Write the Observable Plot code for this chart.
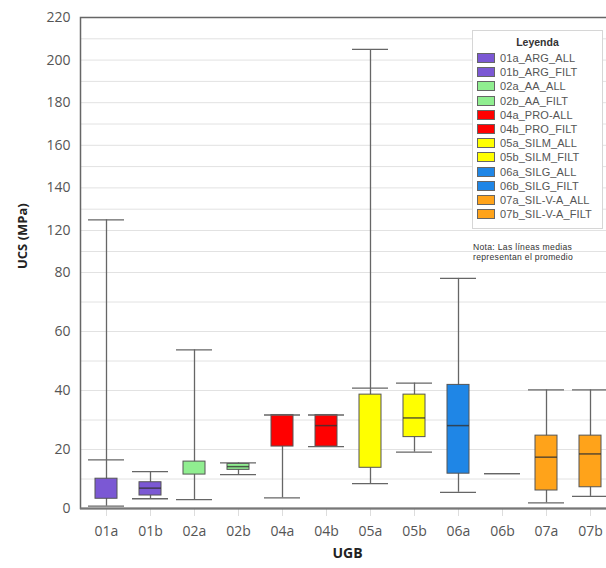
<!DOCTYPE html>
<html><head><meta charset="utf-8">
<script src="https://cdn.jsdelivr.net/npm/d3@7"></script>
<script src="https://cdn.jsdelivr.net/npm/@observablehq/plot@0.6"></script>
<style>
html,body{margin:0;padding:0;background:#fff;overflow:hidden}
#wrap{position:relative;width:606px;height:568px;overflow:hidden}
#legend{position:absolute;left:472px;top:30px;width:131px;height:199px;border:1px solid #d6d6d6;background:#fff;font-family:"Liberation Sans",Arial,sans-serif;box-sizing:border-box;padding-top:5px}
#legend .t{font-weight:bold;font-size:10.5px;color:#333;text-align:center;margin-bottom:3px}
#legend .r{display:flex;align-items:center;height:14.2px;padding-left:4px;font-size:11px;color:#555;white-space:nowrap;letter-spacing:0.1px}
#legend .s{width:18px;height:10px;border:1px solid #666;margin-right:5px;box-sizing:border-box;flex:none}
#note{position:absolute;left:473px;top:242px;font-family:"Liberation Sans",Arial,sans-serif;font-size:8.6px;line-height:10px;color:#333;white-space:nowrap;letter-spacing:0.3px}
</style></head>
<body><div id="wrap"></div>
<script>
// ---- data ----
const categories = ["01a","01b","02a","02b","04a","04b","05a","05b","06a","06b","07a","07b"];
const groupOf    = ["01","01","02","02","04","04","05","05","06","06","07","07"];
const lowCap  = [0.8, 3.3, 3.0, 11.5, 3.6, 21.0, 8.4, 19.1, 5.5, 11.8, 1.9, 4.1];
const q1      = [3.3, 4.4, 11.5, 13.1, 21.0, 21.0, 13.8, 24.2, 11.8, null, 6.1, 7.2];
const q3      = [10.1, 8.9, 15.9, 15.1, 31.7, 31.7, 38.6, 38.6, 41.9, null, 24.7, 24.7];
const meanLine= [null, 6.9, null, 14.2, null, 28.1, null, 30.7, 28.1, null, 17.4, 18.5];
const highCap = [16.5, 12.5, 53.8, 15.5, 31.7, 31.7, 40.8, 42.5, 78.0, 11.8, 40.2, 40.2];
const maxCap  = [125, null, null, null, null, null, 205, null, null, null, null, null];

const groups = ["01","02","04","05","06","07"];
const groupColors = ["#7b58d4","#90ee90","#ff0000","#ffff00","#1f86e6","#ffa31a"];

const yTicks = [0,20,40,60,80,120,140,160,180,200,220];
const gridTicks = [10,20,30,40,50,60,70,80,100,120,130,140,150,160,170,180,190,200,210];

const legendLabels = ["01a_ARG_ALL","01b_ARG_FILT","02a_AA_ALL","02b_AA_FILT","04a_PRO-ALL","04b_PRO_FILT","05a_SILM_ALL","05b_SILM_FILT","06a_SILG_ALL","06b_SILG_FILT","07a_SIL-V-A_ALL","07b_SIL-V-A_FILT"];
const legendTitle = "Leyenda";
const noteLines = ["Nota: Las líneas medias","representan el promedio"];
const yLabel = "UCS (MPa)";
const xLabel = "UGB";

// ---- build table ----
const rows = categories.map((c,i)=>({cat:c, group:groupOf[i], low:lowCap[i], q1:q1[i], q3:q3[i], mean:meanLine[i], high:highCap[i], max:maxCap[i]}));
const boxes = rows.filter(d=>d.q1!=null);
const means = rows.filter(d=>d.mean!=null);
const caps = [];
rows.forEach(d=>{ caps.push({cat:d.cat,v:d.low}); caps.push({cat:d.cat,v:d.high}); if(d.max!=null) caps.push({cat:d.cat,v:d.max}); });

const chart = Plot.plot({
  width: 606, height: 568,
  marginLeft: 80, marginRight: -12, marginTop: 17, marginBottom: 60,
  style: {fontFamily: "'Open Sans', sans-serif", fontSize: "13px", color: "#555", background: "transparent", overflow: "hidden"},
  x: {domain: categories, range: [80, 615], padding: 0, label: null},
  y: {type: "linear", domain: [0,80,120,220], range: [508,272,230,17], label: null},
  color: {domain: groups, range: groupColors},
  marks: [
    Plot.gridY(gridTicks, {stroke: "#e2e2e2", strokeOpacity: 1}),
    Plot.axisY(yTicks, {tickSize: 0, tickPadding: 10, fontSize: 14, fill: "#555", label: null}),
    Plot.axisX({tickSize: 8, tickPadding: 10, stroke: "#ddd", fill: "#555", fontSize: 14, label: null}),
    Plot.ruleX(rows, {x: "cat", y1: "low", y2: d => d.max ?? d.high, stroke: "#666", strokeWidth: 1.3}),
    Plot.barY(boxes, {x: "cat", y1: "q1", y2: "q3", fill: "group", stroke: "#555", strokeWidth: 1, insetLeft: 11, insetRight: 11}),
    Plot.tickY(means, {x: "cat", y: "mean", stroke: "#333", strokeWidth: 1.5, strokeOpacity: 0.8, insetLeft: 11, insetRight: 11}),
    Plot.tickY(caps, {x: "cat", y: "v", stroke: "#666", strokeWidth: 1.3, insetLeft: 4, insetRight: 4}),
    Plot.frame({stroke: "#666", strokeWidth: 1.5}),
    Plot.ruleY([0], {stroke: "#777", strokeWidth: 2}),
    Plot.text([yLabel], {frameAnchor: "left", dx: -58, dy: 6, rotate: -90, fontWeight: "bold", fontSize: 13, fill: "#222"}),
    Plot.text([xLabel], {frameAnchor: "bottom", dy: 49, dx: -2, fontWeight: "bold", fontSize: 14, fill: "#222"})
  ]
});
const wrap = document.getElementById("wrap");
wrap.appendChild(chart);

// legend overlay
const leg = document.createElement("div");
leg.id = "legend";
const t = document.createElement("div"); t.className = "t"; t.textContent = legendTitle; leg.appendChild(t);
legendLabels.forEach((lab,i)=>{
  const r = document.createElement("div"); r.className = "r";
  const s = document.createElement("span"); s.className = "s";
  s.style.background = groupColors[groups.indexOf(groupOf[i])];
  const tx = document.createElement("span"); tx.textContent = lab;
  r.appendChild(s); r.appendChild(tx); leg.appendChild(r);
});
wrap.appendChild(leg);
const note = document.createElement("div"); note.id = "note";
note.innerHTML = noteLines.join("<br>");
wrap.appendChild(note);
</script>
</body></html>
